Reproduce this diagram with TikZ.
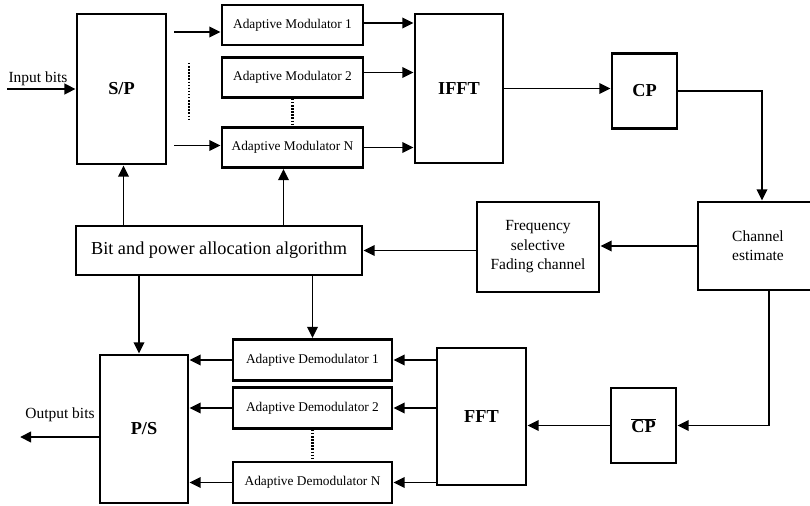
\documentclass[tikz,border=0pt]{standalone}
\usepackage{fontspec}
\setmainfont{Liberation Serif}
\usetikzlibrary{arrows.meta,calc}

\begin{document}
\begin{tikzpicture}[x=0.025cm,y=-0.025cm,
    blk/.style={draw,line width=2pt,inner sep=1pt,align=center},
    big/.style={blk,font=\fontsize{13}{15}\selectfont\bfseries},
    modbox/.style={blk,minimum width=3.525cm,minimum height=1cm,font=\fontsize{9.5}{11}\selectfont},
    demodbox/.style={blk,minimum width=3.975cm,minimum height=1.025cm,font=\fontsize{9.5}{11}\selectfont},
    midbox/.style={blk,font=\fontsize{11}{13.8}\selectfont},
    lbl/.style={inner sep=0pt,font=\fontsize{11}{13}\selectfont},
    arr/.style={-{Triangle[length=8pt,width=7.5pt]},line width=1.4pt},
    fat/.style={arr,line width=2pt},
    dots/.style={line width=2pt,dash pattern=on 1pt off 1.2pt}
]
\useasboundingbox (0,0) rectangle (810,506);
% transmitter
\node[big,minimum width=2.225cm,minimum height=3.75cm] (sp) at (121.5,89) {S/P};
\node[modbox] (am1) at (292.5,25) {Adaptive Modulator 1};
\node[modbox] (am2) at (292.5,77.5) {Adaptive Modulator 2};
\node[modbox] (amn) at (292.5,147.5) {Adaptive Modulator N};
\node[big,minimum width=2.2cm,minimum height=3.725cm] (ifft) at (459,88.5) {IFFT};
\node[big,minimum width=1.625cm,minimum height=1.875cm] (cp) at (644.5,91) {CP};
% channel and allocation
\node[midbox,minimum width=3cm,minimum height=2.2cm] (chan) at (758,246) {Channel\\estimate};
\node[midbox,minimum width=3.05cm,minimum height=2.25cm] (freq) at (538,247) {Frequency\\selective\\Fading channel};
\node[blk,minimum width=7.15cm,minimum height=1.225cm,font=\fontsize{13}{15}\selectfont] (alg) at (219,250.5) {Bit and power allocation algorithm};
% receiver
\node[big,minimum width=2.2cm,minimum height=3.7cm] (ps) at (144,429) {P/S};
\node[demodbox] (ad1) at (312.5,360) {Adaptive Demodulator 1};
\node[demodbox] (ad2) at (312.5,408) {Adaptive Demodulator 2};
\node[demodbox] (adn) at (312.5,482.5) {Adaptive Demodulator N};
\node[big,minimum width=2.225cm,minimum height=3.425cm] (fft) at (481.5,416.5) {FFT};
\node[big,minimum width=1.625cm,minimum height=1.875cm] (cpb) at (643.5,425.5) {$\overline{\mbox{CP}}$};
% labels
\node[lbl] (inlbl) at (38,79) {Input bits};
\node[lbl] (outlbl) at (60,415) {Output bits};
\coordinate (in) at (7,89);
\coordinate (out) at (20,437);
% transmitter links
\draw[fat] (in) -- (sp.west |- in);
\draw[arr] ($(sp.east |- am1)+(7,7)$) -- ($(am1.west)+(0,7)$);
\draw[arr] ($(sp.east |- amn)+(7,-2)$) -- ($(amn.west)+(0,-2)$);
\draw[dots] (189,63) -- (189,121);
\draw[dots] (am2.south) -- (amn.north);
\draw[arr] ($(am1.east)+(0,-2)$) -- ($(am1.east -| ifft.west)+(0,-2)$);
\draw[arr] ($(am2.east)+(0,-5)$) -- ($(am2.east -| ifft.west)+(0,-5)$);
\draw[arr] (amn.east) -- (amn.east -| ifft.west);
\draw[arr] (ifft.east) -- (ifft.east -| cp.west);
\coordinate (cetop) at ($(chan.north)+(4,0)$);
\draw[arr] (cp.east) -| (cetop);
% feedback
\draw[arr] (chan.west) -- (chan.west -| freq.east);
\draw[arr] (freq.west |- alg.east) -- (alg.east);
\coordinate (spin) at ($(sp.south)+(2,0)$);
\draw[arr] (alg.north -| spin) -- (spin);
\coordinate (amin) at ($(amn.south)+(-9,0)$);
\draw[arr] (alg.north -| amin) -- (amin);
\coordinate (psin) at ($(ps.north)+(-5,0)$);
\draw[arr] (alg.south -| psin) -- (psin);
\draw[arr] (alg.south -| ad1.north) -- (ad1.north);
% receiver links
\coordinate (cebot) at ($(chan.south)+(11,0)$);
\draw[arr] (cebot) |- (cpb.east);
\draw[arr] (cpb.west) -- (cpb.west -| fft.east);
\draw[arr] (fft.west |- ad1) -- (ad1.east);
\draw[arr] (fft.west |- ad2) -- (ad2.east);
\draw[arr] (fft.west |- adn) -- (adn.east);
\draw[dots] (ad2.south) -- (adn.north);
\draw[arr] (ad1.west) -- (ad1.west -| ps.east);
\draw[arr] (ad2.west) -- (ad2.west -| ps.east);
\draw[arr] (adn.west) -- (adn.west -| ps.east);
\draw[fat] (ps.west |- out) -- (out);
\end{tikzpicture}
\end{document}
